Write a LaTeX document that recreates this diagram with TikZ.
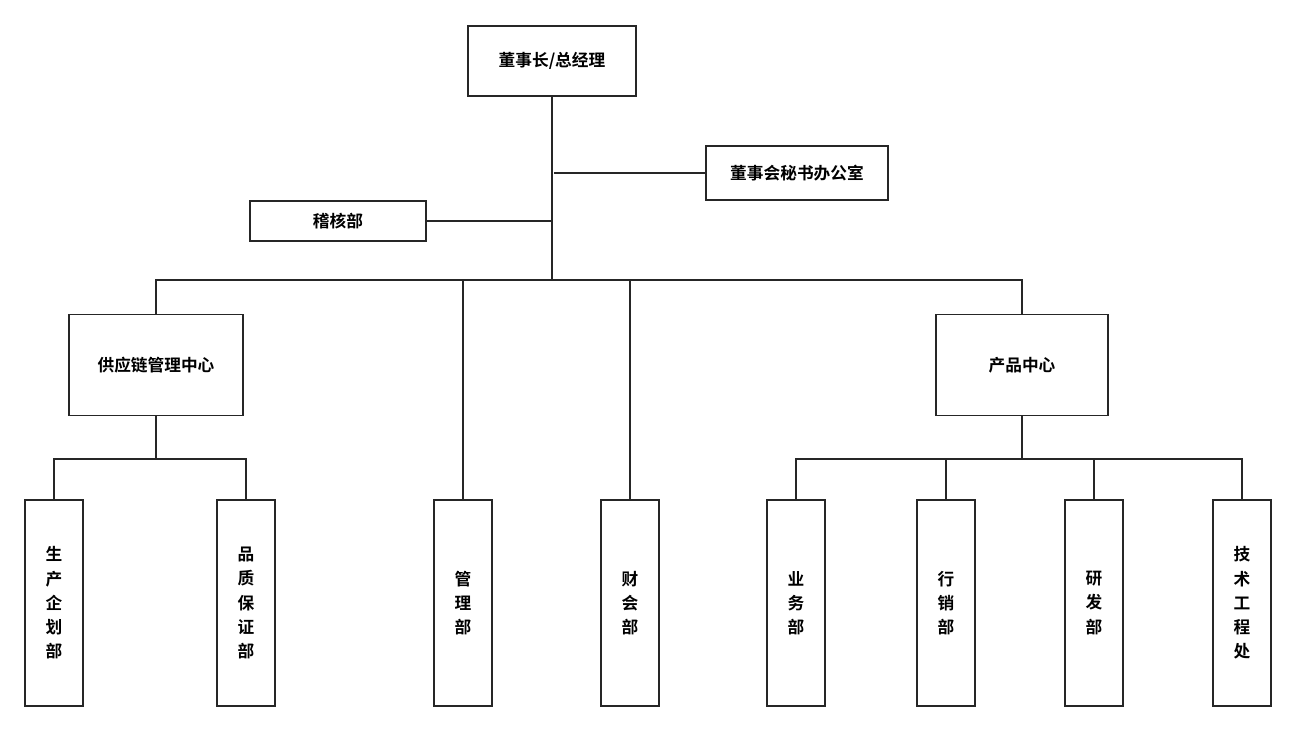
\documentclass[tikz,border=0pt]{standalone}
\usepackage{fontspec}
\setmainfont{Noto Sans CJK SC}[BoldFont={* Bold}]
\usetikzlibrary{positioning}
\tikzset{
  unit/.style={rectangle, draw=black!85, line width=0.9pt, align=center, font=\bfseries\fontsize{9.5}{12}\selectfont},
  dept/.style={unit, minimum width=1.16cm, minimum height=4.12cm, font=\bfseries\fontsize{9.5}{13.8}\selectfont},
  link/.style={draw=black!85, line width=0.9pt}
}
\begin{document}
\begin{tikzpicture}[x=0.02cm, y=-0.02cm]
\useasboundingbox (0,0) rectangle (1296,729);
\node (chair) [unit, minimum width=3.36cm, minimum height=1.4cm] at (552,61) {董事长/总经理};
\node (secretary) [unit, minimum width=3.64cm, minimum height=1.08cm] at (797,173) {董事会秘书办公室};
\node (audit) [unit, minimum width=3.52cm, minimum height=0.8cm] at (338,221) {稽核部};
\node (supply) [unit, minimum width=3.48cm, minimum height=2.02cm] at (156,365) {供应链管理中心};
\node (product) [unit, minimum width=3.44cm, minimum height=2.02cm] at (1022,365) {产品中心};
\node (plan) [dept] at (54,603) {生\\产\\企\\划\\部};
\node (quality) [dept] at (246,603) {品\\质\\保\\证\\部};
\node (manage) [dept] at (463,603) {管\\理\\部};
\node (finance) [dept] at (630,603) {财\\会\\部};
\node (business) [dept] at (796,603) {业\\务\\部};
\node (marketing) [dept] at (946,603) {行\\销\\部};
\node (research) [dept] at (1094,603) {研\\发\\部};
\node (engineering) [dept] at (1242,603) {技\\术\\工\\程\\处};

% trunk and staff offices
\coordinate (hub) at (552,280);
\draw [link] (chair) -- (hub);
\draw [link] (secretary.west) -- ++(-151,0);
\draw [link] (audit.east) -- ++(126,0);
% first level
\draw [link] (supply) |- (hub) -| (product);
\draw [link] (hub) -| (manage);
\draw [link] (hub) -| (finance);
% second level
\coordinate (leftbus) at (156,459);
\coordinate (rightbus) at (1022,459);
\draw [link] (supply) -- (leftbus);
\draw [link] (plan) |- (leftbus) -| (quality);
\draw [link] (product) -- (rightbus);
\draw [link] (business) |- (rightbus) -| (engineering);
\draw [link] (marketing) -- (marketing |- rightbus);
\draw [link] (research) -- (research |- rightbus);
\end{tikzpicture}
\end{document}
